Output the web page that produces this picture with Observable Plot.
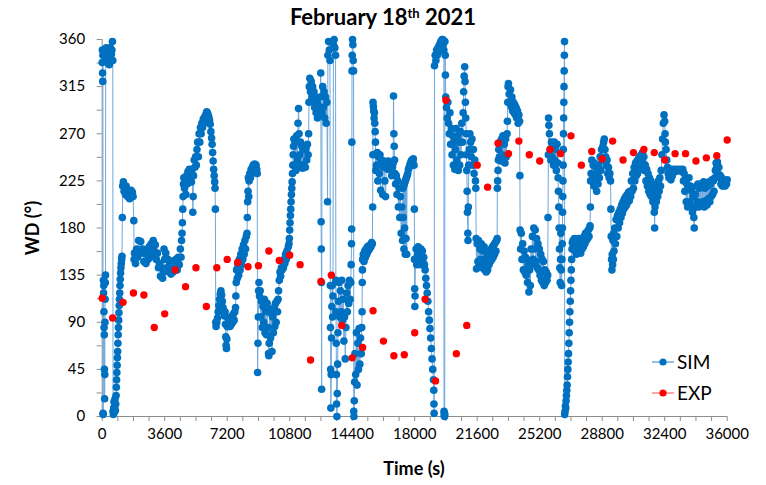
<!DOCTYPE html>
<html><head><meta charset="utf-8">
<script src="https://cdn.jsdelivr.net/npm/d3@7"></script>
<script src="https://cdn.jsdelivr.net/npm/@observablehq/plot@0.6"></script>
<style>
body{margin:0;background:#fff;font-family:Lato,"Open Sans",sans-serif;color:#000;}
#wrap{position:relative;width:766px;height:485px;overflow:hidden;}
#title{position:absolute;top:3px;left:0;width:766px;text-align:center;font-weight:bold;font-size:22px;line-height:28px;}
#title sup{font-size:13px;line-height:0;vertical-align:0.55em;}
#chart{position:absolute;top:32px;left:0;}
.axt{position:absolute;font-weight:bold;font-size:18px;white-space:nowrap;}
#ylab{left:32px;top:228px;transform:translate(-50%,-50%) rotate(-90deg);}
#xlab{left:414px;top:468px;transform:translate(-50%,-50%);}
.leg{position:absolute;left:652px;font-size:19px;display:flex;align-items:center;white-space:nowrap;}
.leg svg{margin-right:3px;}
</style></head>
<body><div id="wrap">
<div id="title">February 18<sup>th</sup> 2021</div>
<div id="chart"></div>
<div class="axt" id="ylab">WD (°)</div>
<div class="axt" id="xlab">Time (s)</div>
<div class="leg" style="top:350px"><svg width="22" height="10"><line x1="0" y1="5" x2="22" y2="5" stroke="#6FA8DC" stroke-width="1.5"/><circle cx="11" cy="5" r="3.6" fill="#0070C0"/></svg>SIM</div>
<div class="leg" style="top:381px"><svg width="22" height="10"><line x1="0" y1="5" x2="22" y2="5" stroke="#FF8A8A" stroke-width="1.5"/><circle cx="11" cy="5" r="3.6" fill="#FF0000"/></svg>EXP</div>
</div>
<script>
const xTickLabels = [0,3600,7200,10800,14400,18000,21600,25200,28800,32400,36000];
const yTickLabels = [0,45,90,135,180,225,270,315,360];

const expTime = [0,600,1200,1800,2400,3000,3600,4200,4800,5400,6000,6600,7200,7800,8400,9000,9600,10200,10800,11400,12000,12600,13200,13800,14400,15000,15600,16200,16800,17400,18000,18600,19200,19800,20400,21000,21600,22200,22800,23400,24000,24600,25200,25800,26400,27000,27600,28200,28800,29400,30000,30600,31200,31800,32400,33000,33600,34200,34800,35400,36000];
const expWD = [113,94,109,118,116,85,98,140,124,142,105,142,150,147,143,144,158,149,154,145,54,129,135,87,56,66,101,72,58,59,80,112,34,302,60,87,240,219,261,251,263,250,244,255,251,268,240,253,246,263,245,252,255,252,245,251,251,244,247,249,264];

// SIM: [time (s), wind direction (deg)]
const simPoints = [
[0,338],[10,350],[20,328],[30,320],[40,345],[50,3],[60,2],[70,130],[80,118],[90,125],[100,100],[110,85],[120,78],[130,45],[140,17],[150,40],[160,90],[170,112],[180,128],[190,135],[200,340],[230,352],[260,345],[290,338],[320,350],[350,342],[380,348],[410,336],[440,345],[470,352],[500,340],[530,346],[560,350],[590,358],[610,340],[625,5],[640,2],[660,8],[680,14],[700,4],[720,10],[740,17],[760,6],[780,12],[800,20],[815,28],[830,35],[845,42],[860,49],[875,56],[890,62],[905,70],[920,78],[935,85],[950,92],[965,99],[980,106],[995,112],[1010,118],[1025,125],[1040,131],[1060,137],[1080,142],[1100,146],[1120,150],[1140,153],[1160,190],[1180,220],[1220,224],[1260,215],[1300,218],[1340,212],[1380,220],[1420,214],[1460,210],[1500,216],[1540,212],[1580,208],[1620,214],[1660,216],[1700,212],[1740,214],[1780,210],[1820,187],[1840,150],
[1860,156],[1920,146],[1980,160],[2040,152],[2100,168],[2160,158],[2220,167],[2280,156],[2340,160],[2400,148],[2460,156],[2520,146],[2580,158],[2640,150],[2700,162],[2760,152],[2820,165],[2880,155],[2940,168],[3000,158],[3060,164],[3120,150],[3180,156],[3240,142],[3300,146],[3360,134],[3420,142],[3480,132],[3540,138],[3560,160],[3600,150],[3660,156],[3720,142],[3780,150],[3840,138],[3900,147],[3960,136],[4020,145],[4080,138],[4140,149],[4200,140],[4260,150],[4320,140],[4380,152],[4440,145],[4500,160],[4540,152],
[4570,168],[4600,175],[4620,185],[4640,198],[4660,210],[4680,222],[4700,228],[4740,218],[4780,225],[4820,212],[4860,230],[4900,222],[4940,234],[4980,226],[5020,236],[5060,228],[5100,232],[5140,224],[5180,236],[5220,195],[5240,210],[5260,230],[5300,245],[5340,238],[5380,248],[5420,240],[5460,255],[5500,262],[5540,248],[5580,270],[5620,262],[5660,276],[5700,270],[5740,280],[5780,276],[5820,284],[5860,280],[5900,286],[5940,284],[5980,289],[6020,291],[6060,290],[6100,288],[6140,286],[6180,283],[6220,279],[6260,272],[6300,266],[6330,260],[6360,252],[6390,244],[6420,236],[6450,230],[6480,224],[6500,218],[6520,198],[6540,90],
[6560,86],[6600,90],[6640,94],[6680,100],[6720,106],[6760,112],[6800,117],[6840,120],[6880,116],[6920,110],[6960,104],[7000,100],[7040,96],[7080,100],[7100,88],[7120,76],[7140,68],[7160,65],[7180,74],[7200,86],[7240,94],[7280,86],[7320,92],[7360,86],[7400,94],[7440,88],[7480,96],[7520,90],[7560,98],[7600,92],[7640,100],[7680,104],[7700,115],[7720,128],[7740,140],[7780,132],[7820,145],[7860,135],[7900,150],[7940,140],[7980,155],[8020,145],[8060,160],[8100,150],[8140,164],[8180,155],[8220,168],[8260,160],[8300,172],[8340,175],[8360,190],[8380,205],[8400,215],[8420,228],[8440,210],[8460,225],[8500,232],[8540,228],[8580,236],[8620,232],[8660,238],[8700,240],[8740,236],[8780,241],[8820,238],[8860,240],[8900,236],[8930,232],[8950,42],
[8970,70],[8990,95],[9010,120],[9030,128],[9060,115],[9100,120],[9140,95],[9180,110],[9220,85],[9260,105],[9300,90],[9340,112],[9380,80],[9420,100],[9460,78],[9500,108],[9540,85],[9580,60],[9600,58],[9620,70],[9660,102],[9700,75],[9740,98],[9780,62],[9820,95],[9860,80],[9900,104],[9940,86],[9980,108],[10020,90],[10060,110],[10100,100],[10130,112],[10160,120],[10200,130],[10240,138],[10280,134],[10320,142],[10360,140],[10400,148],[10440,142],[10480,150],[10520,146],[10560,155],[10600,150],[10640,158],[10680,154],[10720,162],
[10760,165],[10780,170],[10800,178],[10820,185],[10840,192],[10860,198],[10880,205],[10900,212],[10920,218],[10940,224],[10960,232],[10980,240],[11000,250],[11020,258],[11040,265],[11080,240],[11120,262],[11160,235],[11200,268],[11240,245],[11280,280],[11310,294],[11340,270],[11380,250],[11420,262],[11460,240],[11500,258],[11540,237],[11580,255],[11620,240],[11660,258],[11700,238],[11740,256],[11780,245],[11820,260],[11860,250],[11890,270],[11910,300],[11930,315],[11960,323],[12000,310],[12040,320],[12080,305],[12120,315],[12160,300],[12200,310],[12240,295],[12280,305],[12320,290],[12360,300],[12400,285],[12440,298],[12480,288],[12520,295],[12560,305],[12590,328],
[12610,186],[12620,160],[12630,128],[12640,26],[12660,290],[12700,315],[12740,295],[12780,310],[12820,285],[12860,305],[12900,280],[12940,300],[12980,205],[13000,345],[13040,358],[13080,350],[13120,340],[13140,125],[13150,85],[13160,45],[13170,8],[13190,40],[13210,75],[13230,105],[13250,125],[13270,95],[13290,115],[13320,355],[13360,360],[13400,352],[13440,345],[13460,130],[13470,100],[13480,70],[13490,40],[13500,12],[13520,0],[13540,22],[13560,50],[13580,80],[13600,110],[13640,128],[13680,95],[13720,120],[13760,100],[13800,130],[13840,92],[13880,112],[13920,72],[13960,95],[14000,55],[14040,85],[14080,118],[14120,100],[14160,125],[14200,108],[14240,130],[14280,112],[14320,128],[14340,145],[14360,165],[14370,179],[14380,262],[14390,330],[14400,345],[14420,360],[14440,355],[14460,340],[14480,330],[14490,5],[14500,0],[14520,15],[14540,33],[14560,60],[14600,40],[14640,80],[14680,30],[14720,70],[14760,45],[14800,84],[14840,50],[14880,75],[14920,60],[14950,85],[14970,100],[14980,128],[14990,140],[15000,150],[15040,155],[15080,148],[15120,158],[15160,152],[15200,160],[15240,155],[15280,162],[15320,158],[15360,163],[15400,160],[15440,164],[15480,162],[15520,166],[15560,165],[15580,200],[15590,250],
[15600,300],[15620,296],[15640,292],[15660,285],[15680,290],[15700,280],[15720,272],[15740,262],[15760,235],[15780,250],[15800,240],[15840,252],[15880,225],[15920,248],[15960,232],[16000,250],[16040,216],[16080,245],[16120,240],[16160,212],[16200,238],[16240,244],[16280,225],[16320,210],[16360,240],[16400,242],[16440,236],[16480,244],[16520,240],[16560,238],[16600,236],[16640,240],[16680,230],[16720,238],[16760,242],[16780,306],[16800,270],[16820,258],[16840,245],[16860,232],[16900,222],[16940,230],[16980,212],[17020,225],[17060,200],[17100,218],[17140,190],[17180,210],[17220,175],[17260,200],[17300,168],[17320,218],[17340,190],[17360,220],[17380,160],[17400,222],[17420,180],[17440,224],[17460,155],[17480,226],[17500,170],[17520,228],[17540,155],[17560,230],[17600,232],[17640,236],[17680,238],[17720,240],[17760,242],[17800,244],[17840,245],[17880,243],[17920,246],[17960,240],[17980,198],[17990,150],[18000,122],[18010,105],[18020,115],[18040,150],[18080,160],[18120,145],[18160,155],[18200,162],[18240,150],[18280,158],[18320,145],[18360,160],[18400,152],[18440,158],[18480,147],[18520,152],[18560,145],[18600,140],[18640,132],[18680,125],[18720,118],[18760,110],[18800,100],[18840,92],[18880,84],[18920,75],[18960,65],[19000,55],[19040,45],[19080,35],[19100,25],[19110,12],[19120,3],
[19140,335],[19180,345],[19220,340],[19260,350],[19300,345],[19340,352],[19380,348],[19420,355],[19460,352],[19500,358],[19540,356],[19580,360],[19600,357],[19620,360],[19640,355],[19660,358],[19680,350],[19690,5],[19700,1],[19710,3],[19720,0],[19730,2],[19740,358],[19760,345],[19770,326],[19790,305],[19830,295],[19870,285],[19910,300],[19950,280],[19990,270],[20030,290],[20070,260],[20110,275],[20150,250],[20190,268],[20230,240],[20270,262],[20310,236],[20350,255],[20390,275],[20430,245],[20470,268],[20510,235],[20550,262],[20590,240],[20630,272],[20670,250],[20710,280],[20750,262],[20790,290],[20820,310],[20850,325],[20880,334],[20900,320],[20920,300],[20940,285],[20960,270],[20980,250],[21000,235],[21020,215],[21040,195],[21060,175],[21070,168],[21090,200],[21110,240],[21140,255],[21180,270],[21220,262],[21260,248],[21300,265],[21340,240],[21380,255],[21420,232],[21460,245],[21500,225],[21520,218],
[21540,170],[21560,141],[21600,165],[21640,148],[21680,168],[21720,145],[21760,160],[21800,150],[21840,165],[21880,142],[21920,158],[21960,146],[22000,162],[22040,140],[22080,150],[22120,138],[22160,152],[22200,140],[22240,155],[22280,145],[22320,158],[22360,148],[22400,160],[22440,150],[22480,162],[22520,152],[22560,164],[22600,155],[22640,166],[22680,158],[22720,168],[22750,170],
[22760,218],[22780,225],[22800,235],[22820,245],[22840,255],[22880,248],[22920,262],[22960,244],[23000,265],[23040,250],[23080,268],[23120,245],[23160,260],[23200,242],[23240,265],[23280,248],[23320,270],[23340,282],[23360,300],[23380,315],[23400,318],[23440,308],[23480,300],[23520,312],[23560,296],[23600,305],[23640,292],[23680,300],[23720,290],[23760,298],[23800,288],[23840,295],[23880,285],[23920,292],[23960,280],[24000,288],[24040,282],[24060,230],
[24070,178],[24100,160],[24140,175],[24180,150],[24220,165],[24260,140],[24300,158],[24340,138],[24380,152],[24420,135],[24460,150],[24500,128],[24540,145],[24580,119],[24620,140],[24660,125],[24700,160],[24740,145],[24780,172],[24820,150],[24860,180],[24900,160],[24940,178],[24980,148],[25020,170],[25060,142],[25100,165],[25140,140],[25180,160],[25220,135],[25260,155],[25300,130],[25340,150],[25380,128],[25420,148],[25460,125],[25500,140],[25540,128],[25580,138],[25620,130],[25660,135],[25680,190],[25700,250],
[25710,285],[25730,278],[25760,270],[25800,255],[25840,245],[25880,262],[25920,248],[25960,258],[26000,240],[26040,262],[26080,245],[26120,255],[26160,235],[26200,260],[26240,242],[26260,228],[26280,215],[26300,200],[26320,180],[26340,160],[26360,142],[26380,128],[26400,150],[26420,175],[26440,140],[26460,125],[26480,150],
[26500,165],[26510,180],[26520,195],[26530,210],[26540,225],[26550,240],[26560,255],[26570,270],[26580,285],[26590,300],[26600,315],[26610,330],[26620,345],[26630,358],[26640,2],[26660,5],[26680,10],[26700,8],[26720,15],[26740,20],[26760,25],[26780,30],[26800,38],[26820,45],[26840,52],[26860,60],[26880,70],[26900,80],[26920,90],[26940,100],[26960,110],[26980,120],[27000,130],[27020,140],[27040,150],[27060,160],[27080,166],
[27120,168],[27160,160],[27200,170],[27240,158],[27280,165],[27320,155],[27360,168],[27400,160],[27440,170],[27480,158],[27520,165],[27560,156],[27600,166],[27640,160],[27680,170],[27720,162],[27760,172],[27800,165],[27840,175],[27880,168],[27920,176],[27960,170],[28000,178],[28040,172],[28080,180],[28100,182],[28120,200],[28130,225],
[28160,232],[28200,245],[28240,225],[28280,240],[28320,220],[28360,242],[28400,226],[28440,238],[28480,215],[28520,232],[28560,222],[28600,240],[28640,228],[28680,248],[28720,235],[28760,255],[28800,245],[28840,258],[28880,262],[28920,265],[28960,255],[29000,248],[29040,240],[29080,245],[29120,232],[29160,238],[29200,228],[29240,232],[29280,225],[29300,198],[29320,172],[29340,150],[29360,140],[29380,155],[29400,145],[29420,168],[29440,150],[29460,175],[29480,158],[29520,180],[29560,165],[29600,188],[29640,172],[29680,192],[29720,180],[29760,195],[29800,185],
[29840,198],[29880,190],[29920,202],[29960,194],[30000,205],[30040,198],[30080,208],[30120,200],[30160,210],[30200,202],[30240,212],[30280,205],[30320,214],[30360,206],[30400,215],[30440,210],[30480,225],[30520,215],[30560,232],[30600,218],[30640,238],[30680,225],[30720,242],[30760,230],[30800,244],[30840,232],[30880,246],[30920,236],[30960,248],[31000,238],[31040,250],[31080,240],[31120,252],[31160,242],[31200,248],[31240,235],[31280,240],[31320,225],[31360,236],[31400,220],[31440,232],[31480,215],[31520,228],[31560,212],[31600,225],[31640,210],[31680,222],[31720,205],[31760,218],[31800,195],[31820,180],[31840,200],[31880,215],[31920,205],[31960,222],[32000,210],[32040,225],[32080,215],[32120,228],[32160,220],[32200,235],[32240,250],[32280,265],[32320,280],[32360,288],[32400,282],[32420,270],[32440,262],[32480,255],[32520,245],[32560,238],[32600,232],[32640,228],[32680,236],[32720,230],
[32760,226],[32800,236],[32840,230],[32880,234],[32960,236],[33040,234],[33120,236],[33200,235],[33280,236],[33360,234],[33440,236],[33480,225],[33520,232],[33560,215],[33600,226],[33640,205],[33680,222],[33720,200],[33760,218],[33800,228],[33840,205],[33880,220],[33920,200],[33960,215],[34000,195],[34040,210],[34080,190],[34100,180],[34120,200],[34160,212],[34200,200],[34240,220],[34280,205],[34320,222],[34360,200],[34400,218],[34440,204],[34480,222],[34520,202],[34560,220],[34600,205],[34640,224],[34680,200],[34720,218],[34760,206],[34800,222],[34840,202],[34880,220],[34920,208],[34960,224],[35000,205],[35040,222],[35080,210],[35120,226],[35160,212],[35200,225],[35240,215],[35280,228],[35320,235],[35360,242],[35400,238],[35440,243],[35480,232],[35520,238],[35560,228],[35600,230],[35640,222],[35680,228],[35720,220],[35760,226],[35800,222],[35840,225],[35880,220],[35920,225],[35960,222],[36000,226]
];

const sim = simPoints.map(([t, v]) => ({t, v}));
const exp = expTime.map((t, i) => ({t, v: expWD[i]}));

const xTicks = d3.range(0, 36001, 900);
const yTicks = d3.range(0, 360.1, 22.5);
const axisColor = "#8c8c8c";

const chart = Plot.plot({
  width: 766,
  height: 453,
  marginLeft: 101.7,
  marginRight: 39.3,
  marginTop: 7,
  marginBottom: 69,
  x: {domain: [0, 36000]},
  y: {domain: [0, 360]},
  style: {fontFamily: "Lato, 'Open Sans', sans-serif", fontSize: "15px", color: "#000", background: "transparent", overflow: "visible"},
  marks: [
    Plot.axisX({ticks: xTicks, tickFormat: d => xTickLabels.includes(d) ? String(d) : "", tickSize: 5, tickPadding: 7, stroke: axisColor, fill: "#000", label: null}),
    Plot.axisY({ticks: yTicks, tickFormat: d => yTickLabels.includes(d) ? String(d) : "", tickSize: 5, tickPadding: 12, stroke: axisColor, fill: "#000", label: null}),
    Plot.ruleY([0], {stroke: axisColor}),
    Plot.ruleX([0], {stroke: axisColor}),
    Plot.line(sim, {x: "t", y: "v", stroke: "#6FA8DC", strokeWidth: 1}),
    Plot.dot(sim, {x: "t", y: "v", r: 3.8, fill: "#0070C0"}),
    Plot.dot(exp, {x: "t", y: "v", r: 3.7, fill: "#FF0000"})
  ]
});
document.getElementById("chart").appendChild(chart);
</script>
</body></html>
